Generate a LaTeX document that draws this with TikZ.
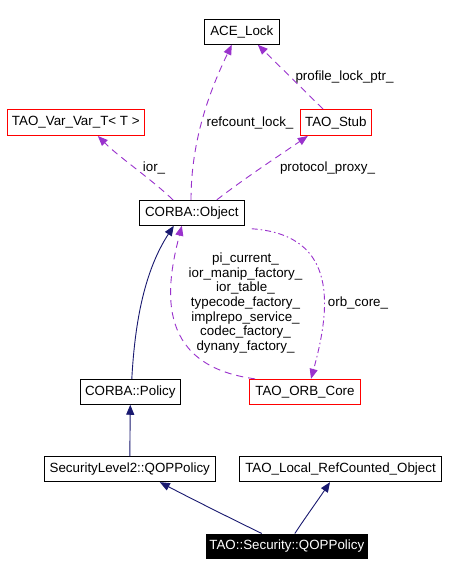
\documentclass[tikz,border=0pt]{standalone}
\usepackage{fontspec}
\setmainfont{Liberation Sans}
\usetikzlibrary{arrows.meta}
\definecolor{navyedge}{RGB}{25,25,112}
\definecolor{orchid}{RGB}{154,50,205}
\tikzset{
  cls/.style={draw=black, line width=0.9pt, inner sep=0pt, minimum height=25pt, font=\fontsize{13.35}{15}\selectfont, fill=white},
  redcls/.style={cls, draw=red},
  maincls/.style={cls, fill=black, text=white},
  inh/.style={draw=navyedge, line width=0.9pt, -{Triangle[length=10pt,width=8pt]}},
  use/.style={draw=orchid, line width=0.9pt, dash pattern=on 7pt off 5pt, -{Triangle[length=10pt,width=8pt]}},
  usedot/.style={draw=orchid, line width=0.9pt, dash pattern=on 6pt off 3pt on 1.5pt off 3pt, -{Triangle[length=10pt,width=8pt]}},
  lbl/.style={inner sep=0pt, font=\fontsize{13.35}{14.7}\selectfont, align=center}
}
\begin{document}
\begin{tikzpicture}[x=1pt,y=-1pt]
\useasboundingbox[fill=white] (0,0) rectangle (448,576);
\node[cls, minimum width=75pt] (ace) at (241.8,31.8) {ACE\_Lock};
\node[redcls, minimum width=137pt, minimum height=26pt] (var) at (75.8,122.5) {TAO\_Var\_Var\_T< T >};
\node[redcls, minimum width=71.7pt, minimum height=26pt] (stub) at (335.8,122.5) {TAO\_Stub};
\node[cls, minimum width=105pt] (obj) at (191.8,212.8) {CORBA::Object};
\node[cls, minimum width=100pt] (pol) at (130.3,391.8) {CORBA::Policy};
\node[redcls, minimum width=111.4pt] (orb) at (305,391.8) {TAO\_ORB\_Core};
\node[cls, minimum width=171pt] (sec) at (129.8,469.2) {SecurityLevel2::QOPPolicy};
\node[cls, minimum width=202.4pt] (loc) at (340.5,469.2) {TAO\_Local\_RefCounted\_Object};
\node[maincls, minimum width=161.7pt, minimum height=24.7pt] (tao) at (286.8,546.3) {TAO::Security::QOPPolicy};

% labels
\node[lbl] (lprof) at (344.5,77) {profile\_lock\_ptr\_};
\node[lbl] (lref) at (250,122.7) {refcount\_lock\_};
\node[lbl] (lior) at (154,167.7) {ior\_};
\node[lbl] (lproto) at (327.5,168) {protocol\_proxy\_};
\node[lbl] (lmulti) at (245.5,303) {pi\_current\_\\ior\_manip\_factory\_\\ior\_table\_\\typecode\_factory\_\\implrepo\_service\_\\codec\_factory\_\\dynany\_factory\_};
\node[lbl] (lorb) at (358,303) {orb\_core\_};

% edges
\draw[use] ([xshift=-12.8pt]stub.north) -- ([xshift=16pt]ace.south);
\draw[use] ([xshift=-0.8pt]obj.north) .. controls (191,140) and (210,90) .. ([xshift=-10pt]ace.south);
\draw[use] ([xshift=-18.8pt]obj.north) .. controls (150,178) and (120,158) .. ([xshift=22pt]var.south);
\draw[use] ([xshift=25pt]obj.north) .. controls (245,178) and (280,155) .. ([xshift=-28pt]stub.south);
\draw[use] ([xshift=-50pt]orb.north) .. controls (150,365) and (168,280) .. ([xshift=-10pt]obj.south);
\draw[usedot] ([xshift=7pt,yshift=-3pt]obj.south east) .. controls (340,235) and (330,310) .. ([xshift=6pt]orb.north);
\draw[inh] ([xshift=1.5pt]pol.north) .. controls (135,320) and (145,270) .. ([xshift=-18pt]obj.south);
\draw[inh] (sec.north) -- (pol.south);
\draw[inh] ([xshift=-25pt]tao.north) .. controls (230,518) and (190,498) .. ([xshift=30pt]sec.south);
\draw[inh] ([xshift=8pt]tao.north) .. controls (305,518) and (318,500) .. ([xshift=-10.5pt]loc.south);
\end{tikzpicture}
\end{document}
